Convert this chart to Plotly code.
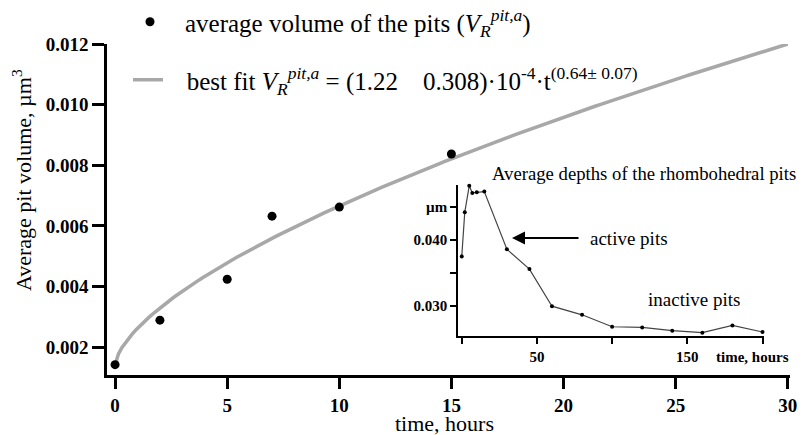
import numpy as np
import plotly.graph_objects as go

# ---- main data: average pit volume vs time ----
time_h = [0, 2, 5, 7, 10, 15, 30]
volume = [0.00142, 0.00289, 0.00424, 0.00632, 0.00662, 0.00837, 0.01203]

# best-fit parameters (V = v0 + k * t^p)
fit_v0 = 0.00142
fit_k = 0.00120
fit_p = 0.64

# ---- inset data: average depth of rhombohedral pits ----
depth_t = [0, 2, 5, 7, 10, 15, 30, 45, 60, 80, 100, 120, 140, 160, 180, 200]
depth = [0.0375, 0.0442, 0.0482, 0.0471, 0.0472, 0.0473, 0.0386, 0.0356,
         0.0300, 0.0287, 0.0269, 0.0268, 0.0263, 0.0260, 0.0271, 0.0261]

main_xticks = [0, 5, 10, 15, 20, 25, 30]
main_yticks = [0.002, 0.004, 0.006, 0.008, 0.010, 0.012]
inset_xticks = [0, 50, 100, 150, 200]
inset_xtext = ["", "50", "", "150", ""]
inset_yticks = [0.030, 0.035, 0.040, 0.045]
inset_ytext = ["0.030", "", "0.040", "µm"]

FONT = "Liberation Serif"

fit_t = np.linspace(0, 30, 200)
fit_v = fit_v0 + fit_k * fit_t ** fit_p

NB = "\u00a0"

fig = go.Figure()

fig.add_trace(go.Scatter(
    x=fit_t, y=fit_v, mode="lines",
    line=dict(color="#a8a8a8", width=3.5),
    name=NB * 3 + "best fit <i>V</i><sub><i>R</i></sub><sup><i>pit,a</i></sup> = (1.22" + NB * 4
         + "0.308)·10<sup>-4</sup>·t<sup>(0.64± 0.07)</sup>",
    legend="legend2", cliponaxis=False,
))
fig.add_trace(go.Scatter(
    x=time_h, y=volume, mode="markers",
    marker=dict(color="black", size=9),
    name="average volume of the pits (<i>V</i><sub><i>R</i></sub><sup><i>pit,a</i></sup>)",
    legend="legend", cliponaxis=False,
))
fig.add_trace(go.Scatter(
    x=depth_t, y=depth, mode="lines+markers",
    line=dict(color="#444444", width=1.2),
    marker=dict(color="black", size=4),
    xaxis="x2", yaxis="y2", showlegend=False, cliponaxis=False,
))

# page body has an 8px margin, so the figure is offset by OFF in the window
OFF = 8
W, H = 806 - OFF, 435 - OFF
L, T = 107 - OFF, 44 - OFF
R = W - (790 - OFF)
B = H - (375 - OFF)
pw, ph = W - L - R, H - T - B


def px(xp):
    return (xp - OFF - L) / pw


def py(yp):
    return (H - B - (yp - OFF)) / ph


fig.update_layout(
    width=W, height=H,
    margin=dict(l=L, r=R, t=T, b=B, autoexpand=False),
    paper_bgcolor="white", plot_bgcolor="white",
    font=dict(family=FONT, color="black"),
    xaxis=dict(
        domain=[0, 1], range=[-0.36, 30.1],
        showline=True, linecolor="black", linewidth=2.5,
        ticks="outside", ticklen=11, tickwidth=2.5, tickcolor="black",
        tickvals=main_xticks, showgrid=False, zeroline=False,
        tickfont=dict(family=FONT, size=19, weight="bold"),
    ),
    yaxis=dict(
        domain=[0, 1], range=[0.00108, 0.012],
        showline=True, linecolor="black", linewidth=2.5,
        ticks="outside", ticklen=12, tickwidth=2.5, tickcolor="black",
        tickvals=main_yticks, tickformat=".3f", showgrid=False, zeroline=False,
        tickfont=dict(family=FONT, size=19, weight="bold"),
    ),
    xaxis2=dict(
        domain=[px(458), px(764)], range=[-2.5, 201], anchor="y2",
        showline=True, linecolor="black", linewidth=1.5,
        ticks="outside", ticklen=6, tickwidth=1.5, tickcolor="black",
        tickvals=inset_xticks, ticktext=inset_xtext,
        showgrid=False, zeroline=False,
        tickfont=dict(family=FONT, size=15, weight="bold"),
    ),
    yaxis2=dict(
        domain=[py(336), py(185)], range=[0.0255, 0.0483], anchor="x2",
        showline=True, linecolor="black", linewidth=1.5,
        ticks="outside", ticklen=6, tickwidth=1.5, tickcolor="black",
        tickvals=inset_yticks, ticktext=inset_ytext,
        showgrid=False, zeroline=False,
        tickfont=dict(family=FONT, size=15, weight="bold"),
    ),
    legend=dict(
        x=px(115), y=py(22), xanchor="left", yanchor="middle",
        bgcolor="rgba(0,0,0,0)", font=dict(family=FONT, size=25),
        itemwidth=60,
    ),
    legend2=dict(
        x=px(128), y=py(80), xanchor="left", yanchor="middle",
        bgcolor="rgba(0,0,0,0)", font=dict(family=FONT, size=25),
    ),
    annotations=[
        dict(text="time, hours", x=px(444), y=py(423), xref="paper", yref="paper",
             xanchor="center", yanchor="middle", showarrow=False,
             font=dict(family=FONT, size=22)),
        dict(text="Average pit volume, µm<sup>3</sup>", x=px(22), y=py(180),
             xref="paper", yref="paper", xanchor="center", yanchor="middle",
             textangle=-90, showarrow=False, font=dict(family=FONT, size=22)),
        dict(text="Average depths of the rhombohedral pits", x=px(644), y=py(173),
             xref="paper", yref="paper", xanchor="center", yanchor="middle",
             showarrow=False, font=dict(family=FONT, size=18.7)),
        dict(text="active pits", x=px(588), y=py(238), xref="paper", yref="paper",
             xanchor="left", yanchor="middle", showarrow=False,
             font=dict(family=FONT, size=19)),
        dict(text="inactive pits", x=px(646), y=py(299), xref="paper", yref="paper",
             xanchor="left", yanchor="middle", showarrow=False,
             font=dict(family=FONT, size=19)),
        dict(text="time, hours", x=px(752), y=py(357), xref="paper", yref="paper",
             xanchor="center", yanchor="middle", showarrow=False,
             font=dict(family=FONT, size=15, weight="bold")),
        dict(text="", x=px(512), y=py(238), xref="paper", yref="paper",
             showarrow=True, ax=68, ay=0, axref="pixel", ayref="pixel",
             arrowhead=2, arrowsize=1.3, arrowwidth=2, arrowcolor="black"),
    ],
)

fig.write_html("out.html")
